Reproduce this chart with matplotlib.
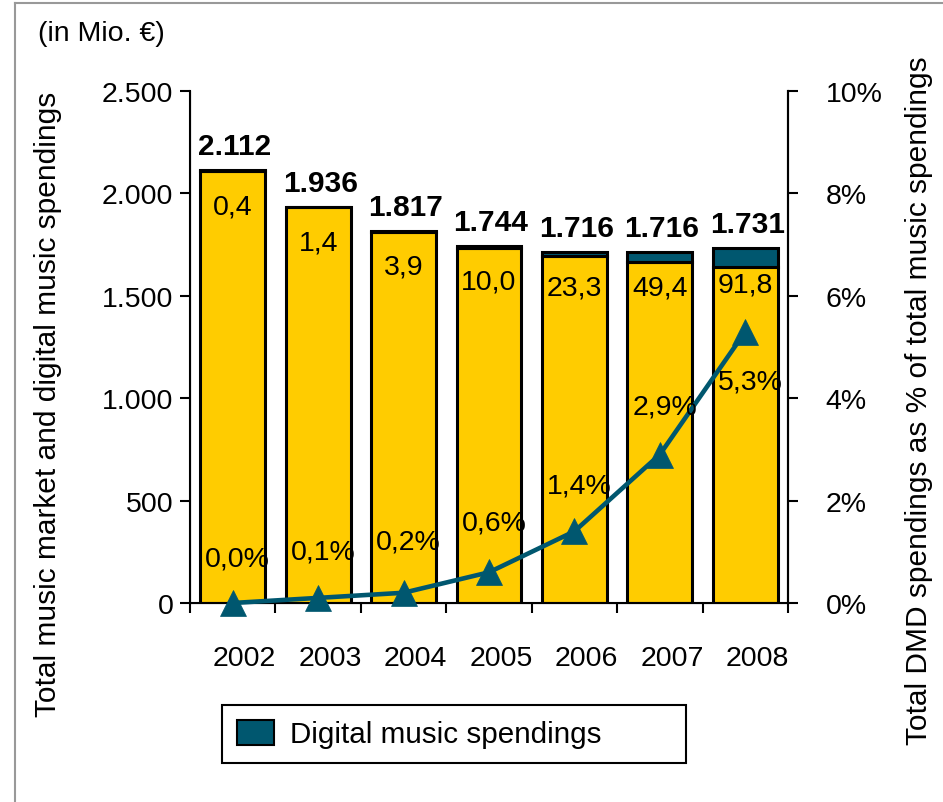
import matplotlib
matplotlib.use("Agg")
import matplotlib.pyplot as plt
from matplotlib.patches import Patch
from matplotlib.lines import Line2D
from matplotlib.transforms import ScaledTranslation

plt.rcParams['font.family'] = ['Liberation Sans', 'DejaVu Sans']

years = ['2002', '2003', '2004', '2005', '2006', '2007', '2008']
total = [2112, 1936, 1817, 1744, 1716, 1716, 1731]
digital = [0.4, 1.4, 3.9, 10.0, 23.3, 49.4, 91.8]
share = [0.0, 0.1, 0.2, 0.6, 1.4, 2.9, 5.3]

YELLOW = '#FFCC00'
TEAL = '#00576F'


def de(v, nd=1):
    return f"{v:.{nd}f}".replace('.', ',')


def thousands(v, pos=None):
    return f"{int(v):,}".replace(',', '.')


fig = plt.figure(figsize=(9.43, 8.03), dpi=100)
ax = fig.add_axes([190 / 943, 1 - 604 / 803, 598 / 943, 512 / 803])
x = list(range(len(years)))
rest = [t - d for t, d in zip(total, digital)]

ax.bar(x, rest, width=0.76, color=YELLOW, edgecolor='black', linewidth=2.2, zorder=2)
ax.bar(x, digital, bottom=rest, width=0.76, color=TEAL, edgecolor='black', linewidth=2.2, zorder=2)

for i in x:
    ax.annotate(thousands(total[i]), (i, total[i]), xytext=(2, 10), textcoords='offset pixels',
                ha='center', va='bottom', fontsize=21.5, fontweight='bold')
    ax.annotate(de(digital[i]), (i, total[i]), xytext=(0, -36), textcoords='offset pixels',
                ha='center', va='center', fontsize=20.5)

ax.set_xlim(-0.5, len(years) - 0.5)
ax.set_ylim(0, 2500)
ax.set_yticks([0, 500, 1000, 1500, 2000, 2500])
ax.yaxis.set_major_formatter(plt.FuncFormatter(thousands))
ax.set_xticks(x)
ax.set_xticklabels(years)
ax.set_xticks([i - 0.5 for i in range(len(years) + 1)], minor=True)
ax.tick_params(axis='x', which='major', length=0, pad=30, labelsize=20.5)
ax.tick_params(axis='x', which='minor', length=7, width=1.5, direction='out')
ax.tick_params(axis='y', length=7, width=1.5, pad=5, labelsize=20.5)
for lbl in ax.get_xticklabels():
    lbl.set_transform(lbl.get_transform() + ScaledTranslation(0.12, 0, fig.dpi_scale_trans))
ax.spines['top'].set_visible(False)
for side in ['left', 'right', 'bottom']:
    ax.spines[side].set_linewidth(1.5)
ax.set_ylabel('Total music market and digital music spendings', fontsize=21.5)
ax.yaxis.set_label_coords(-0.214, 0.389)

ax2 = ax.twinx()
ax2.plot(x, share, color=TEAL, linewidth=3.3, marker='^', markersize=18.5,
         markeredgewidth=0.5, zorder=3, clip_on=False)
ax2.set_ylim(0, 10)
ax2.set_yticks([0, 2, 4, 6, 8, 10])
ax2.set_yticklabels([f"{v}%" for v in [0, 2, 4, 6, 8, 10]])
ax2.tick_params(axis='y', length=7, width=1.5, pad=20, labelsize=20.5)
ax2.spines['top'].set_visible(False)
ax2.spines['right'].set_linewidth(1.5)
ax2.set_ylabel('Total DMD spendings as % of total music spendings', fontsize=21.5)
ax2.yaxis.set_label_coords(1.196, 0.398)

label_dy = [44, 46, 51, 50, 46, 48, -50]
for i in x:
    ax2.annotate(de(share[i]) + '%', (i, share[i]), xytext=(5, label_dy[i]), textcoords='offset pixels',
                 ha='center', va='center', fontsize=20.5, annotation_clip=False)

fig.text(38 / 943, 1 - 34 / 803, '(in Mio. €)', fontsize=20.5, ha='left', va='center')

handles = [Patch(facecolor=TEAL, edgecolor='black', linewidth=1.5)]
leg = fig.legend(handles, ['Digital music spendings'], loc='center left',
                 bbox_to_anchor=(222 / 943, 1 - 766 / 803, 464 / 943, 62 / 803), mode='expand',
                 fancybox=False, edgecolor='black', framealpha=1, fontsize=21.3,
                 borderpad=0.5, borderaxespad=0, handlelength=1.25, handleheight=0.95,
                 handletextpad=0.55)
leg.get_frame().set_linewidth(1.5)

fig.add_artist(Line2D([15 / 943, 15 / 943], [0, 1 - 4 / 803], color='#999999', linewidth=1.5))
fig.add_artist(Line2D([15 / 943, 1], [1 - 4 / 803, 1 - 4 / 803], color='#999999', linewidth=1.5))

fig.savefig('out.png', dpi=100)
